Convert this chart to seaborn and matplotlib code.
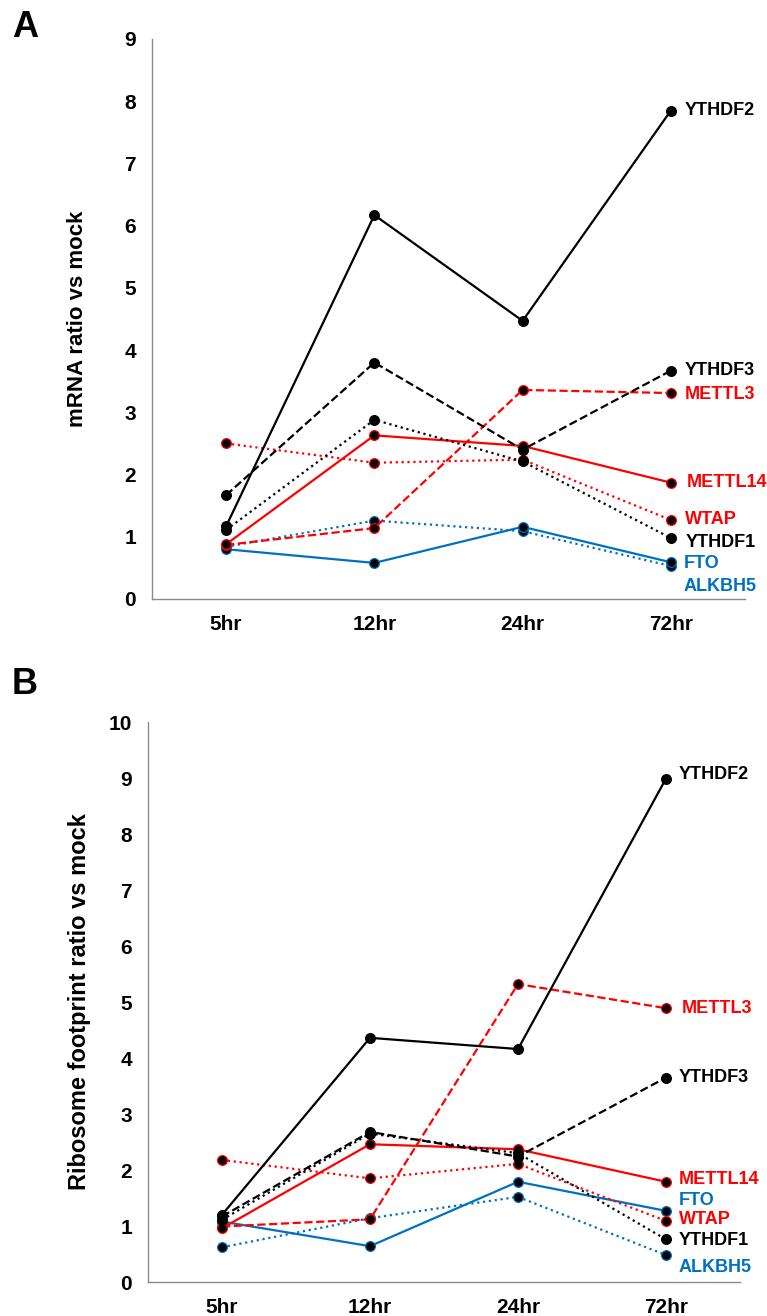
import numpy as np
import pandas as pd
import matplotlib
matplotlib.use("Agg")
import matplotlib.pyplot as plt
import seaborn as sns

# ---------------- data ----------------
timepoints = ["5hr", "12hr", "24hr", "72hr"]
genes = ["YTHDF2", "YTHDF3", "YTHDF1", "METTL14", "WTAP", "METTL3", "FTO", "ALKBH5"]

# Panel A: mRNA ratio vs mock
mrna_YTHDF2 = [1.17, 6.17, 4.47, 7.85]
mrna_YTHDF3 = [1.67, 3.80, 2.40, 3.67]
mrna_YTHDF1 = [1.11, 2.88, 2.21, 0.98]
mrna_METTL14 = [0.88, 2.63, 2.46, 1.87]
mrna_WTAP = [2.50, 2.19, 2.24, 1.27]
mrna_METTL3 = [0.87, 1.14, 3.36, 3.31]
mrna_FTO = [0.80, 0.58, 1.16, 0.59]
mrna_ALKBH5 = [0.84, 1.26, 1.09, 0.53]

# Panel B: ribosome footprint ratio vs mock
ribo_YTHDF2 = [1.20, 4.36, 4.16, 8.99]
ribo_YTHDF3 = [1.17, 2.68, 2.24, 3.65]
ribo_YTHDF1 = [1.11, 2.65, 2.30, 0.76]
ribo_METTL14 = [0.96, 2.46, 2.37, 1.79]
ribo_WTAP = [2.18, 1.85, 2.11, 1.09]
ribo_METTL3 = [0.99, 1.12, 5.32, 4.89]
ribo_FTO = [1.08, 0.64, 1.79, 1.27]
ribo_ALKBH5 = [0.62, 1.14, 1.52, 0.48]

mrna = dict(YTHDF2=mrna_YTHDF2, YTHDF3=mrna_YTHDF3, YTHDF1=mrna_YTHDF1,
            METTL14=mrna_METTL14, WTAP=mrna_WTAP, METTL3=mrna_METTL3,
            FTO=mrna_FTO, ALKBH5=mrna_ALKBH5)
ribo = dict(YTHDF2=ribo_YTHDF2, YTHDF3=ribo_YTHDF3, YTHDF1=ribo_YTHDF1,
            METTL14=ribo_METTL14, WTAP=ribo_WTAP, METTL3=ribo_METTL3,
            FTO=ribo_FTO, ALKBH5=ribo_ALKBH5)

# ---------------- styles ----------------
RED = "#FF0000"
BLUE = "#0070C0"
BLACK = "#000000"
style = {
    "YTHDF2": (BLACK, "-"),
    "YTHDF3": (BLACK, "--"),
    "YTHDF1": (BLACK, ":"),
    "METTL14": (RED, "-"),
    "WTAP": (RED, ":"),
    "METTL3": (RED, "--"),
    "FTO": (BLUE, "-"),
    "ALKBH5": (BLUE, ":"),
}
draw_order = ["ALKBH5", "FTO", "WTAP", "METTL3", "METTL14", "YTHDF1", "YTHDF3", "YTHDF2"]

# label nudges in pixels (dx, dy up)
nudge_a = {"YTHDF2": (14, 0), "YTHDF3": (14, 0), "METTL3": (14, -1), "METTL14": (16, 0),
           "WTAP": (14, 0), "YTHDF1": (15, -4), "FTO": (13, -1), "ALKBH5": (13, -20)}
nudge_b = {"YTHDF2": (13, 4), "YTHDF3": (13, 0), "METTL3": (16, 0), "METTL14": (13, 2),
           "WTAP": (13, 1), "YTHDF1": (13, -1), "FTO": (13, 10), "ALKBH5": (13, -12)}

sns.set_theme(style="white")
plt.rcParams["font.family"] = ["Liberation Sans", "DejaVu Sans"]
plt.rcParams["font.weight"] = "bold"
plt.rcParams["text.color"] = "black"
plt.rcParams["axes.labelcolor"] = "black"
plt.rcParams["xtick.color"] = "black"
plt.rcParams["ytick.color"] = "black"

DPI = 100
fig = plt.figure(figsize=(767 / DPI, 1316 / DPI), dpi=DPI)
W, H = 767, 1316

def px2pt(v):
    return v * 72.0 / DPI

def make_panel(rect, data, ymax, ylabel, ylabel_size, label_x, nudges):
    ax = fig.add_axes(rect)
    rows = []
    for g in genes:
        for t, v in zip(timepoints, data[g]):
            rows.append({"time": t, "value": v, "gene": g})
    df = pd.DataFrame(rows)
    for g in draw_order:
        color, ls = style[g]
        sub = df[df["gene"] == g]
        sns.lineplot(data=sub, x="time", y="value", ax=ax, color=color,
                     linestyle=ls, linewidth=1.6, marker="o", markersize=7,
                     markerfacecolor="black", markeredgecolor=color,
                     markeredgewidth=0.9, sort=False, legend=False)
        dx, dy = nudges[g]
        ax.annotate(g, xy=(timepoints[-1], data[g][-1]),
                    xytext=(px2pt(dx), px2pt(dy)), textcoords="offset points",
                    ha="left", va="center", color=color, fontsize=13,
                    fontweight="bold", annotation_clip=False)
    ax.set_xlim(-0.5, len(timepoints) - 0.5)
    ax.set_ylim(0, ymax)
    ax.set_yticks(range(0, ymax + 1))
    ax.set_xlabel("")
    ax.set_ylabel(ylabel, fontsize=ylabel_size, fontweight="bold", color="black")
    ax.yaxis.set_label_coords(label_x, 0.5)
    ax.tick_params(axis="both", length=0, labelsize=15, colors="black")
    ax.tick_params(axis="x", pad=px2pt(16))
    ax.tick_params(axis="y", pad=px2pt(16))
    for lab in ax.get_xticklabels() + ax.get_yticklabels():
        lab.set_fontweight("bold")
    for s in ["top", "right"]:
        ax.spines[s].set_visible(False)
    for s in ["left", "bottom"]:
        ax.spines[s].set_color("#8a8a8a")
        ax.spines[s].set_linewidth(1.0)
    ax.grid(False)
    return ax

# Panel A: axes 152..745 x, 39..599 y
rect_a = [152 / W, 1 - 599 / H, (745 - 152) / W, (599 - 39) / H]
make_panel(rect_a, mrna, 9, "mRNA ratio vs mock", 16, -0.108, nudge_a)

# Panel B: axes 148..740 x, 722..1282 y
rect_b = [148 / W, 1 - 1282 / H, (740 - 148) / W, (1282 - 722) / H]
make_panel(rect_b, ribo, 10, "Ribosome footprint ratio vs mock", 17, -0.097, nudge_b)

fig.text(12 / W, 1 - 10 / H, "A", fontsize=26, fontweight="bold", ha="left", va="top")
fig.text(12 / W, 1 - 667 / H, "B", fontsize=26, fontweight="bold", ha="left", va="top")

fig.savefig("out.png", dpi=DPI)
